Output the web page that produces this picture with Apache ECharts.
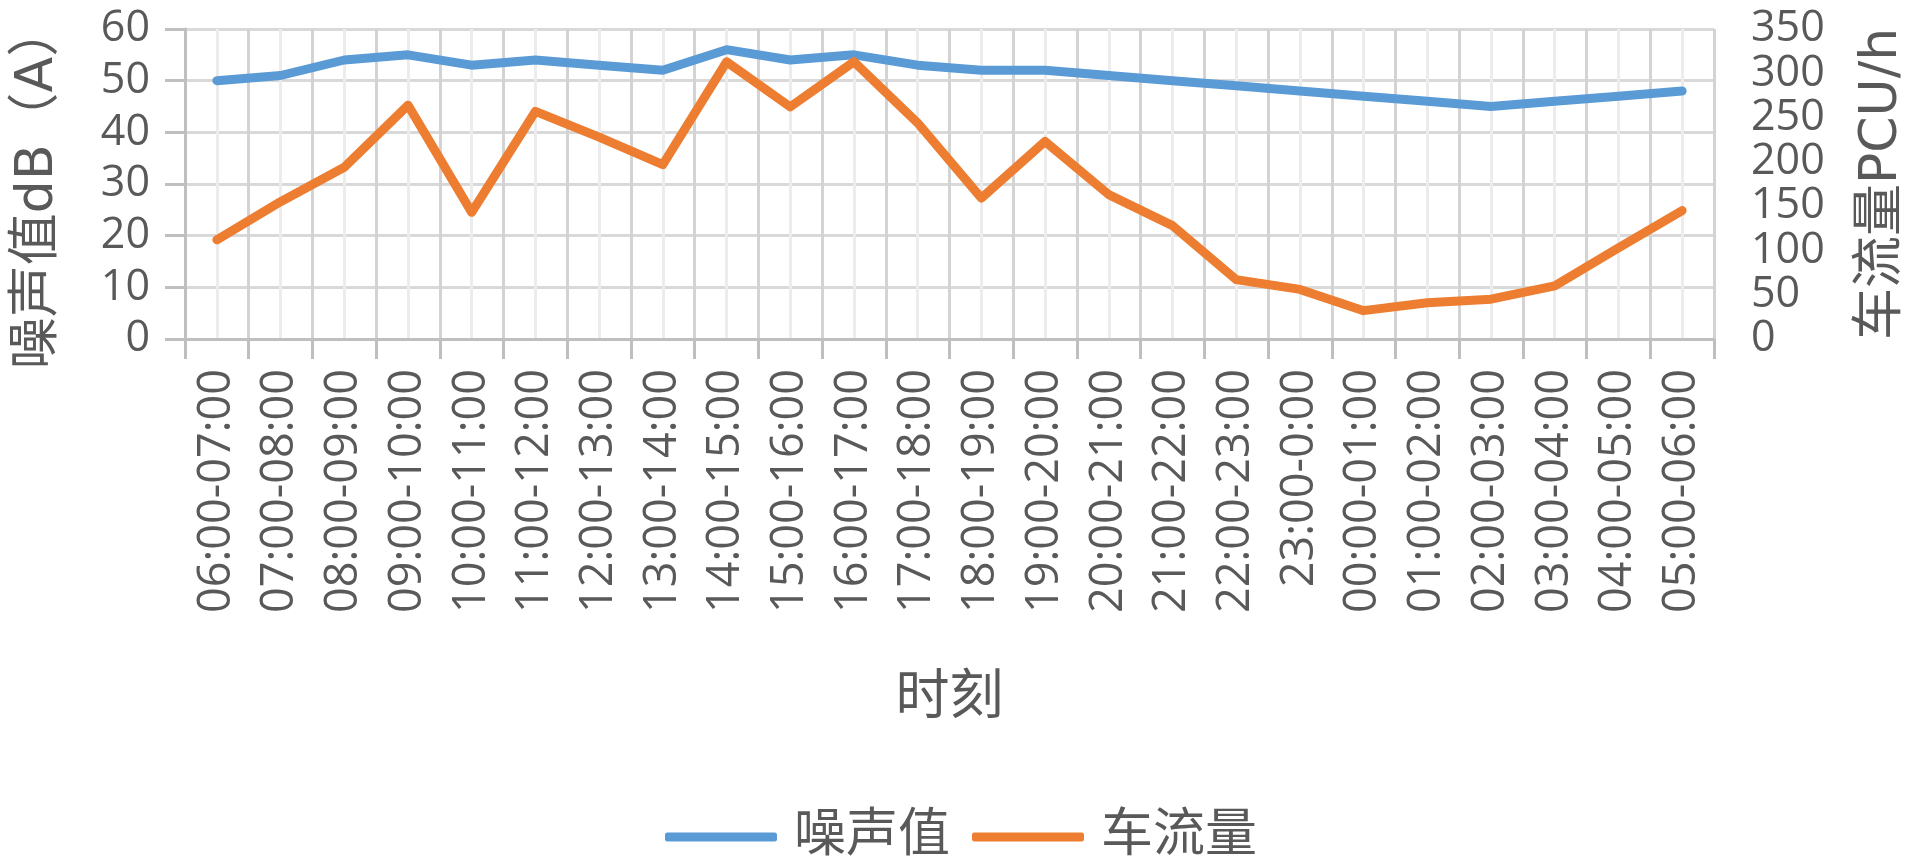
<!DOCTYPE html>
<html>
<head>
<meta charset="utf-8">
<title>噪声值与车流量</title>
<script src="https://cdn.jsdelivr.net/npm/echarts@6/dist/echarts.min.js"></script>
<style>
  html, body { margin: 0; padding: 0; background: #ffffff; }
  #chart { width: 1906px; height: 863px; }
</style>
</head>
<body>
<div id="chart"></div>
<script>
// Hourly periods across one day
const periods = [
  '06:00-07:00', '07:00-08:00', '08:00-09:00', '09:00-10:00', '10:00-11:00', '11:00-12:00',
  '12:00-13:00', '13:00-14:00', '14:00-15:00', '15:00-16:00', '16:00-17:00', '17:00-18:00',
  '18:00-19:00', '19:00-20:00', '20:00-21:00', '21:00-22:00', '22:00-23:00', '23:00-0:00',
  '00:00-01:00', '01:00-02:00', '02:00-03:00', '03:00-04:00', '04:00-05:00', '05:00-06:00'
];

// Noise level, dB(A)
const noiseLevel = [50, 51, 54, 55, 53, 54, 53, 52, 56, 54, 55, 53,
                    52, 52, 51, 50, 49, 48, 47, 46, 45, 46, 47, 48];

// Traffic volume, PCU/h
const trafficVolume = [112, 155, 194, 264, 143, 257, 228, 197, 313, 262, 313, 244,
                       159, 223, 163, 128, 67, 56, 32, 41, 45, 60, 103, 145];

const seriesNames = ['噪声值', '车流量'];
const seriesColors = ['#5b9bd5', '#ed7d31'];

const textGrey = '#595959';
const numFont = '"Open Sans", "Noto Sans CJK SC", sans-serif';
const cjkFont = '"DejaVu Sans", "Noto Sans CJK SC", sans-serif';
const gridGrey = '#d9d9d9';
const axisGrey = '#bfbfbf';

const chart = echarts.init(document.getElementById('chart'), null, { renderer: 'canvas' });

chart.setOption({
  backgroundColor: '#ffffff',
  animation: false,
  color: seriesColors,
  grid: { left: 185, right: 192, top: 29, bottom: 524, containLabel: false, outerBoundsMode: 'none' },
  legend: {
    data: seriesNames,
    orient: 'horizontal',
    top: 806,
    left: 660,
    icon: 'roundRect',
    itemWidth: 112,
    itemHeight: 9,
    itemGap: 22,
    textStyle: { color: textGrey, fontSize: 52, fontFamily: cjkFont, padding: [0, 0, 0, 12] }
  },
  xAxis: [
    {
      type: 'category',
      data: periods,
      boundaryGap: true,
      name: '时刻',
      nameLocation: 'middle',
      nameGap: 334,
      nameTextStyle: { color: textGrey, fontSize: 54, fontFamily: cjkFont },
      axisLine: { lineStyle: { color: axisGrey, width: 3 } },
      axisTick: { show: true, length: 20, interval: 0, lineStyle: { color: axisGrey, width: 3 } },
      axisLabel: {
        interval: 0, rotate: 90, margin: 30,
        color: textGrey, fontSize: 45, fontFamily: numFont
      },
      splitLine: { show: true, interval: 0, lineStyle: { color: '#d3d3d3', width: 3 } }
    },
    {
      // lighter vertical lines through each period's centre
      type: 'category',
      data: periods,
      boundaryGap: true,
      position: 'bottom',
      axisLine: { show: false },
      axisTick: { show: false },
      axisLabel: { show: false },
      splitLine: { show: true, interval: 0, alignWithLabel: true, lineStyle: { color: '#ececec', width: 3 } }
    }
  ],
  yAxis: [
    {
      type: 'value',
      min: 0, max: 60, interval: 10,
      position: 'left',
      name: '噪声值dB（A）',
      nameLocation: 'middle',
      nameRotate: 90,
      nameGap: 121,
      nameTextStyle: { color: textGrey, fontSize: 52, fontFamily: cjkFont, padding: [0, 6, 0, 0] },
      axisLine: { show: true, lineStyle: { color: axisGrey, width: 3 } },
      axisTick: { show: true, length: 20, lineStyle: { color: axisGrey, width: 3 } },
      axisLabel: { margin: 35, color: textGrey, fontSize: 43, fontFamily: numFont,
                   showMinLabel: true, showMaxLabel: true },
      splitLine: { show: true, lineStyle: { color: gridGrey, width: 3 } }
    },
    {
      type: 'value',
      min: 0, max: 350, interval: 50,
      position: 'right',
      name: '车流量PCU/h',
      nameLocation: 'middle',
      nameRotate: 90,
      nameGap: 142,
      nameTextStyle: { color: textGrey, fontSize: 52, fontFamily: cjkFont },
      axisLine: { show: false },
      axisTick: { show: false },
      axisLabel: { margin: 37, color: textGrey, fontSize: 43, fontFamily: numFont,
                   showMinLabel: true, showMaxLabel: true, hideOverlap: false },
      splitLine: { show: false }
    }
  ],
  series: [
    {
      name: seriesNames[0],
      type: 'line',
      xAxisIndex: 0,
      yAxisIndex: 0,
      data: noiseLevel,
      symbol: 'none',
      lineStyle: { width: 9, color: seriesColors[0], cap: 'round', join: 'round' },
      z: 3
    },
    {
      name: seriesNames[1],
      type: 'line',
      xAxisIndex: 0,
      yAxisIndex: 1,
      data: trafficVolume,
      symbol: 'none',
      lineStyle: { width: 9, color: seriesColors[1], cap: 'round', join: 'round' },
      z: 4
    }
  ]
});
</script>
</body>
</html>
